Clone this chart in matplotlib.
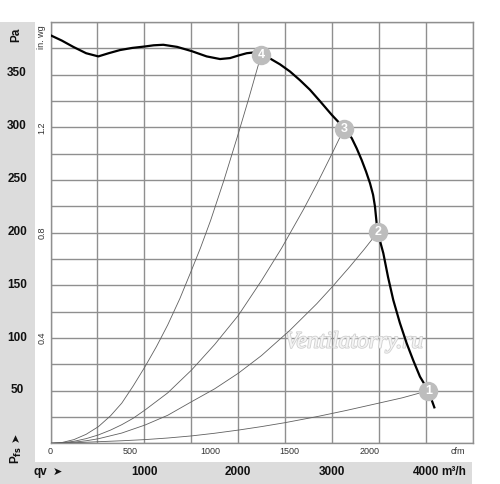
import numpy as np
import matplotlib.pyplot as plt
import matplotlib.transforms as mtransforms
import matplotlib.patheffects as pe
from matplotlib.patches import Rectangle

plt.rcParams['font.family'] = ['Liberation Sans', 'DejaVu Sans']

PA_PER_INWG = 249.09
M3H_PER_CFM = 1.699

# fan curve: qv in m3/h, Pfs in Pa
fan_q = [0, 120, 243, 380, 510, 620, 741, 870, 1008, 1100, 1203, 1350, 1505, 1665, 1808,
         1914, 2010, 2092, 2163, 2245, 2341, 2447, 2554, 2660, 2767, 2880, 2999, 3070, 3140,
         3212, 3265, 3318, 3365, 3407, 3440, 3460, 3478, 3489, 3515, 3549, 3600, 3655, 3725,
         3798, 3870, 3940, 4029, 4093]
fan_p = [386, 381, 375, 369, 366, 369, 372, 374, 375.4, 376.5, 377, 375, 371, 366, 363.5,
         364.4, 367, 369, 369.7, 367, 364, 358.5, 351.7, 343.5, 334.4, 323, 310.7, 304, 297,
         288.7, 279, 268, 257, 246, 235, 224, 208, 200, 191, 179.8, 157, 135.6, 114,
         94.6, 78, 63, 49.8, 34]

# system curves 1..4
sys1_q = [0, 250, 510, 760, 1008, 1250, 1505, 1750, 2003, 2250, 2500, 2839, 3150, 3496, 3750, 4029]
sys1_p = [0, 0.5, 1.5, 2.4, 3.5, 5, 7, 9.5, 12.5, 15.8, 19.5, 25.2, 31, 37.9, 43, 49.8]
sys2_q = [0, 125, 250, 380, 510, 760, 1008, 1250, 1505, 1750, 2003, 2250, 2554, 2839, 3000,
          3194, 3350, 3489]
sys2_p = [0, 0.25, 1.05, 2.4, 4.3, 9.7, 17.3, 26.5, 39.4, 51.5, 66.3, 83, 107, 132, 147.6,
          167.3, 184, 199.7]
sys3_q = [0, 125, 250, 380, 510, 640, 760, 880, 1008, 1250, 1505, 1750, 2003, 2250, 2465,
          2700, 2839, 3000, 3130]
sys3_p = [0, 0.5, 1.9, 4.4, 7.9, 12.5, 17.6, 23.6, 31.5, 47.7, 69.4, 93.4, 121, 153.9, 184.7,
          221.6, 245, 273.6, 297.5]
sys4_q = [0, 125, 250, 380, 510, 640, 760, 880, 1008, 1130, 1250, 1380, 1505, 1600, 1708,
          1850, 2003, 2120, 2245]
sys4_p = [0, 0.8, 3.5, 8.5, 15.7, 26, 38, 54, 72.5, 91.5, 112, 137, 164, 185, 211,
          249, 293, 328, 367]

# operating points
op_labels = ['1', '2', '3', '4']
op_q = [4029, 3489, 3130, 2245]
op_p = [49.8, 199.7, 297.5, 367]

pa_ticks = [50, 100, 150, 200, 250, 300, 350]
inwg_ticks = [0.4, 0.8, 1.2]
cfm_ticks = [0, 500, 1000, 1500, 2000]
qv_ticks = [1000, 2000, 3000, 4000]

W, H = 500, 484
fig = plt.figure(figsize=(W / 100, H / 100), dpi=100)

strip = '#dcdcdc'
fig.patches.append(Rectangle((0, 0), 35 / W, (H - 22) / H, transform=fig.transFigure,
                             facecolor=strip, edgecolor='none', zorder=-1))
fig.patches.append(Rectangle((0, 0), 472 / W, 22 / H, transform=fig.transFigure,
                             facecolor=strip, edgecolor='none', zorder=-1))

ax = fig.add_axes([50.5 / W, (H - 443.3) / H, 422 / W, 421.3 / H])
ax.set_xlim(0, 4500)
ax.set_ylim(0, 1.6 * PA_PER_INWG)
ax.set_xticks(np.arange(0, 4501, 500))
ax.set_yticks(np.arange(0, 17) * 0.1 * PA_PER_INWG)
ax.grid(True, color='#8f8f8f', linewidth=1.0)
ax.tick_params(length=0, labelbottom=False, labelleft=False)
for s in ax.spines.values():
    s.set_color('#8f8f8f')
    s.set_linewidth(1.0)

for q, p in [(sys1_q, sys1_p), (sys2_q, sys2_p), (sys3_q, sys3_p), (sys4_q, sys4_p)]:
    ax.plot(q, p, color='#606060', linewidth=0.6, zorder=3)

ax.plot(fan_q, fan_p, color='black', linewidth=1.6, zorder=4, solid_joinstyle='round')

ax.plot(op_q, op_p, 'o', markersize=14, color='#bdbdbd', markeredgecolor='none', zorder=5)
for lab, q, p in zip(op_labels, op_q, op_p):
    ax.text(q, p, lab, ha='center', va='center', color='white', fontsize=9,
            fontweight='bold', zorder=6)

ax.text(0.72, 0.24, 'Ventilatorry.ru', transform=ax.transAxes, ha='center', va='center',
        fontsize=17, family='Liberation Serif', style='italic', color='#f4f4f4', zorder=2,
        path_effects=[pe.withStroke(linewidth=1.2, foreground='#d0d0d0')])

# left labels (Pa and in. wg)
ty = mtransforms.blended_transform_factory(fig.transFigure, ax.transData)
for p in pa_ticks:
    ax.text(17 / W, p, str(p), transform=ty, ha='center', va='center',
            fontsize=8.5, fontweight='bold', color='#111111')
for v in inwg_ticks:
    ax.text(42 / W, v * PA_PER_INWG, f'{v:.1f}', transform=ty, ha='center', va='center',
            rotation=90, fontsize=6.5, color='#333333')
fig.text(42 / W, 1 - 37 / H, 'in. wg', ha='center', va='center', rotation=90,
         fontsize=6.5, color='#333333')
fig.text(16 / W, 1 - 35 / H, 'Pa', ha='center', va='center', rotation=90,
         fontsize=8.5, fontweight='bold', color='#111111')
fig.text(16 / W, 1 - 455 / H, r'P$_{\mathbf{fs}}$', ha='center', va='center', rotation=90,
         fontsize=8.5, fontweight='bold', color='#111111')
fig.text(16 / W, 1 - 437 / H, '➤', ha='center', va='center', rotation=90,
         fontsize=8, color='#111111')

# bottom labels (cfm and qv)
tx = mtransforms.blended_transform_factory(ax.transData, fig.transFigure)
for c in cfm_ticks:
    ax.text(c * M3H_PER_CFM, 1 - 452 / H, str(c), transform=tx, ha='center', va='center',
            fontsize=6.5, color='#333333')
fig.text(458 / W, 1 - 452 / H, 'cfm', ha='center', va='center', fontsize=6.5, color='#333333')
for q in qv_ticks:
    ax.text(q, 1 - 472 / H, str(q), transform=tx, ha='center', va='center',
            fontsize=8.5, fontweight='bold', color='#111111')
fig.text(441 / W, 1 - 472 / H, 'm³/h', ha='left', va='center', fontsize=8.5,
         fontweight='bold', color='#111111')
fig.text(33 / W, 1 - 472 / H, 'qv', ha='left', va='center', fontsize=8.5,
         fontweight='bold', color='#111111')
fig.text(57 / W, 1 - 472 / H, '➤', ha='center', va='center', fontsize=8, color='#111111')

fig.savefig('out.png', dpi=100)
